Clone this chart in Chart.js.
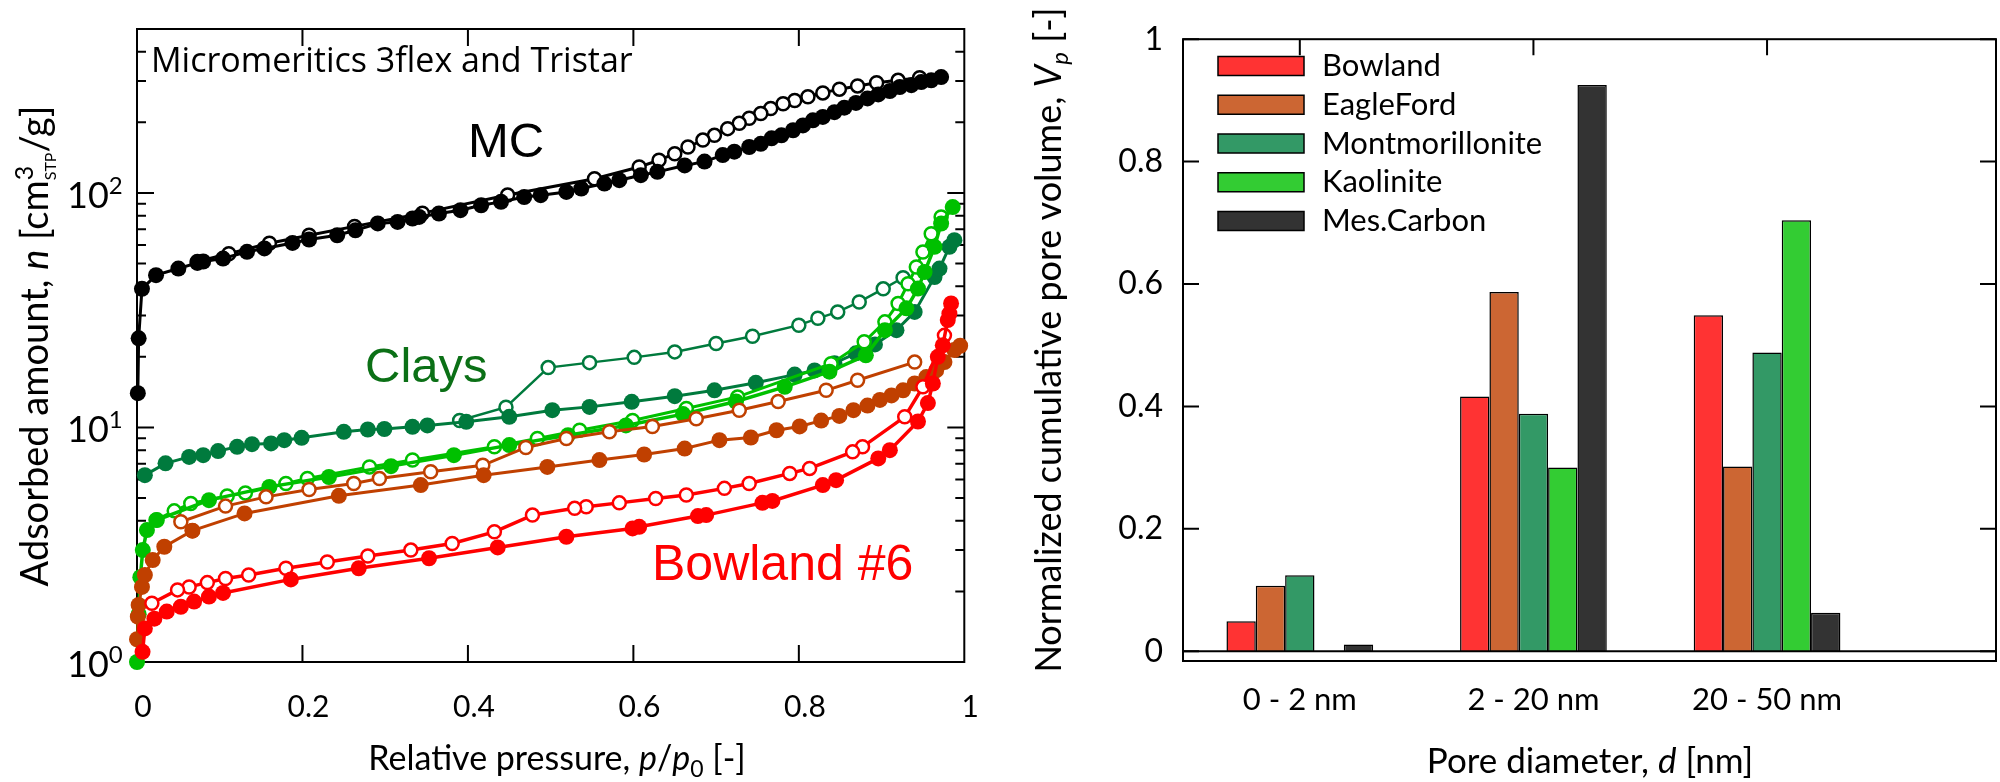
<!DOCTYPE html>
<html>
<head>
<meta charset="utf-8">
<script src="https://cdn.jsdelivr.net/npm/chart.js@4.4.1/dist/chart.umd.min.js"></script>
<style>
  html, body { margin: 0; padding: 0; background: #fff; }
  #wrap { position: relative; width: 2000px; height: 782px; }
  .box { position: absolute; top: 0; width: 1000px; height: 782px; }
</style>
</head>
<body>
<div id="wrap">
  <div class="box" style="left:0"><canvas id="iso"></canvas></div>
  <div class="box" style="left:1000px"><canvas id="pores"></canvas></div>
</div>
<script>
// ---------- left panel: isotherms, [p/p0, n] ----------
const pressureTicks = [0, 0.2, 0.4, 0.6, 0.8, 1];
const pressureTickLabels = ['0', '0.2', '0.4', '0.6', '0.8', '1'];
const amountDecades = [1, 10, 100];
const amountDecadeExps = ['0', '1', '2'];
const amountMinor = [2, 3, 4, 5, 6, 7, 8, 9, 20, 30, 40, 50, 60, 70, 80, 90, 200, 300, 400];

const mcAds = [[0.001,14],[0.002,24],[0.006,39],[0.023,44.6],[0.050,47.6],[0.073,50.3],[0.080,51],[0.104,52.5],[0.133,56.1],[0.154,58],[0.188,61.2],[0.208,63.3],[0.242,66],[0.264,69.3],[0.291,74.1],[0.315,75.2],[0.333,77.8],[0.341,79],[0.365,81.7],[0.391,84.4],[0.416,88.6],[0.440,91.6],[0.468,96.1],[0.488,97.8],[0.519,101],[0.537,104.4],[0.565,109.6],[0.583,113.3],[0.609,119],[0.629,123],[0.662,131],[0.686,136],[0.708,145],[0.722,150],[0.740,157],[0.754,162],[0.767,171],[0.779,176],[0.793,185],[0.805,194],[0.817,204],[0.829,211],[0.843,221],[0.855,231],[0.869,242],[0.883,253],[0.896,263],[0.910,272],[0.922,283],[0.936,288],[0.948,297],[0.960,302],[0.972,312]];
const mcDes = [[0.946,310],[0.920,302],[0.894,295],[0.871,286],[0.849,277],[0.829,267],[0.811,257],[0.795,248],[0.781,240],[0.766,229],[0.754,218],[0.740,208],[0.728,198],[0.714,188],[0.698,176],[0.684,168],[0.666,157],[0.650,147],[0.631,138],[0.607,129],[0.553,115],[0.448,98],[0.345,82],[0.263,72],[0.208,66],[0.160,61],[0.111,55],[0.073,51]];

const montAds = [[0.0095,6.26],[0.0345,7.03],[0.063,7.49],[0.080,7.62],[0.098,7.93],[0.121,8.27],[0.139,8.49],[0.162,8.55],[0.178,8.83],[0.199,9.03],[0.250,9.58],[0.279,9.80],[0.299,9.85],[0.333,10.06],[0.351,10.2],[0.398,10.57],[0.450,11.1],[0.502,11.85],[0.547,12.24],[0.598,12.86],[0.650,13.6],[0.698,14.4],[0.748,15.5],[0.795,16.8],[0.819,17.5],[0.843,18.8],[0.869,20.7],[0.892,22.6],[0.918,26],[0.940,31.1],[0.964,43.8],[0.970,47.6],[0.982,58.9],[0.988,62.9]];
const montDes = [[0.926,43.5],[0.902,39],[0.873,34.3],[0.847,31.1],[0.823,29.2],[0.800,27.3],[0.744,24.5],[0.700,22.8],[0.650,21],[0.601,19.9],[0.547,18.9],[0.497,18],[0.446,12.2],[0.390,10.7]];

const kaoAds = [[0.0,1.0],[0.002,1.6],[0.004,2.3],[0.007,3.0],[0.012,3.65],[0.024,4.03],[0.087,4.9],[0.160,5.58],[0.232,6.15],[0.307,6.84],[0.383,7.62],[0.450,8.41],[0.521,9.27],[0.591,10.2],[0.660,11.4],[0.724,12.9],[0.783,14.9],[0.837,17.3],[0.881,20.3],[0.904,26],[0.930,32.2],[0.944,39.1],[0.952,46],[0.964,58.9],[0.972,74],[0.986,87]];
const kaoDes = [[0.972,79],[0.960,67],[0.950,56],[0.942,48.3],[0.932,41],[0.920,33.8],[0.904,28.2],[0.879,23.2],[0.839,18.7],[0.726,13.5],[0.664,12.05],[0.599,10.7],[0.535,9.73],[0.484,8.98],[0.432,8.27],[0.333,7.26],[0.281,6.79],[0.206,6.06],[0.180,5.77],[0.131,5.26],[0.109,5.1],[0.065,4.74],[0.045,4.41],[0.023,4.03]];

const efAds = [[0.0,1.25],[0.001,1.56],[0.002,1.75],[0.006,2.09],[0.0095,2.35],[0.019,2.72],[0.033,3.1],[0.067,3.63],[0.130,4.3],[0.244,5.11],[0.343,5.68],[0.419,6.26],[0.496,6.79],[0.559,7.26],[0.613,7.67],[0.662,8.13],[0.704,8.83],[0.742,9.06],[0.773,9.73],[0.801,10.1],[0.827,10.7],[0.849,11.2],[0.866,11.85],[0.883,12.4],[0.898,13.1],[0.912,13.7],[0.926,14.4],[0.940,15.4],[0.954,16.4],[0.966,17.5],[0.976,19],[0.988,21.4],[0.995,22.3]];
const efDes = [[0.940,19],[0.871,15.9],[0.833,14.4],[0.775,12.9],[0.728,11.85],[0.676,10.9],[0.623,10.1],[0.571,9.58],[0.519,8.98],[0.470,8.22],[0.418,6.9],[0.355,6.47],[0.293,6.06],[0.262,5.77],[0.208,5.44],[0.156,5.06],[0.107,4.62],[0.053,3.96],[0.067,3.63]];

const bowAds = [[0.0067,1.105],[0.0095,1.39],[0.021,1.53],[0.036,1.64],[0.053,1.72],[0.069,1.81],[0.087,1.90],[0.104,1.97],[0.186,2.25],[0.268,2.51],[0.353,2.77],[0.436,3.08],[0.519,3.42],[0.599,3.71],[0.607,3.77],[0.678,4.19],[0.688,4.23],[0.756,4.77],[0.768,4.86],[0.829,5.68],[0.845,5.96],[0.896,7.38],[0.910,8.0],[0.944,10.6],[0.956,12.7],[0.962,15.4],[0.968,20],[0.974,22.4],[0.980,28.7],[0.982,30.6],[0.984,33.8]];
const bowDes = [[0.976,24.7],[0.950,14.9],[0.928,11.1],[0.877,8.27],[0.865,7.87],[0.813,6.69],[0.789,6.37],[0.740,5.77],[0.710,5.50],[0.664,5.15],[0.627,4.98],[0.583,4.77],[0.543,4.59],[0.529,4.52],[0.478,4.23],[0.432,3.59],[0.381,3.2],[0.331,3.0],[0.279,2.83],[0.230,2.67],[0.180,2.51],[0.135,2.35],[0.107,2.27],[0.085,2.18],[0.063,2.09],[0.049,2.03],[0.018,1.78]];

// ---------- right panel: pore volume bars ----------
const poreBins = ['0 - 2 nm', '2 - 20 nm', '20 - 50 nm'];
const poreTicks = [0, 0.2, 0.4, 0.6, 0.8, 1];
const poreTickLabels = ['0', '0.2', '0.4', '0.6', '0.8', '1'];
const bowlandPores = [0.049, 0.416, 0.549];
const eagleFordPores = [0.107, 0.587, 0.302];
const montPores = [0.124, 0.388, 0.488];
const kaolinitePores = [0, 0.300, 0.704];
const mesCarbonPores = [0.011, 0.925, 0.063];

const TXT = 'Lato';

function drawRuns(ctx, item, y) {
  ctx.save();
  ctx.translate(item.x, y);
  if (item.rotate) ctx.rotate(-Math.PI / 2);
  ctx.textBaseline = 'alphabetic';
  ctx.textAlign = 'left';
  let w = 0;
  item.runs.forEach(r => { ctx.font = r.font; if (!r.stack) w += ctx.measureText(r.t).width; });
  let cx = item.align === 'center' ? -w / 2 : item.align === 'right' ? -w : 0;
  item.runs.forEach(r => {
    ctx.font = r.font;
    ctx.fillStyle = item.color || '#000';
    ctx.fillText(r.t, cx, r.dy || 0);
    if (!r.stack) cx += ctx.measureText(r.t).width;
  });
  ctx.restore();
}

// text that is not a tick label: titles, notes
const notes = {
  id: 'notes',
  afterDraw(chart, args, opts) {
    const ys = chart.scales.y;
    (opts.items || []).forEach(it => {
      const y = it.yv !== undefined ? ys.getPixelForValue(it.yv) + (it.dy || 0) : it.y;
      drawRuns(chart.ctx, it, y);
    });
  }
};

// gnuplot style box with inward ticks
const frame = {
  id: 'frame',
  beforeDatasetsDraw(chart, args, opts) {
    const {ctx, chartArea: a, scales} = chart;
    ctx.save();
    ctx.strokeStyle = '#000';
    ctx.lineWidth = 2;
    ctx.beginPath();
    (opts.xTicks || []).forEach(v => {
      const px = scales.x.getPixelForValue(v);
      ctx.moveTo(px, a.top); ctx.lineTo(px, a.top + opts.len);
      if (opts.bottomTicks) { ctx.moveTo(px, a.bottom); ctx.lineTo(px, a.bottom - opts.len); }
    });
    (opts.yTicks || []).forEach(v => {
      const py = scales.y.getPixelForValue(v);
      ctx.moveTo(a.left, py); ctx.lineTo(a.left + opts.len, py);
      ctx.moveTo(a.right, py); ctx.lineTo(a.right - opts.len, py);
    });
    (opts.yMinor || []).forEach(v => {
      const py = scales.y.getPixelForValue(v);
      ctx.moveTo(a.left, py); ctx.lineTo(a.left + opts.minorLen, py);
      ctx.moveTo(a.right, py); ctx.lineTo(a.right - opts.minorLen, py);
    });
    ctx.stroke();
    ctx.strokeRect(a.left, a.top, a.right - a.left, a.bottom - a.top);
    ctx.restore();
  },
  afterDatasetsDraw(chart, args, opts) {
    if (!opts.zeroLine) return;
    const {ctx, chartArea: a, scales} = chart;
    const py = scales.y.getPixelForValue(0);
    ctx.save();
    ctx.strokeStyle = '#000';
    ctx.lineWidth = 2;
    ctx.beginPath();
    ctx.moveTo(a.left, py); ctx.lineTo(a.right, py);
    ctx.stroke();
    ctx.restore();
  }
};

// legend inside the plot, gnuplot style
const boxLegend = {
  id: 'boxLegend',
  afterDraw(chart, args, opts) {
    const ctx = chart.ctx;
    ctx.save();
    ctx.font = opts.font;
    ctx.textBaseline = 'middle';
    chart.data.datasets.forEach((ds, i) => {
      const cy = opts.y + i * opts.step;
      ctx.fillStyle = ds.backgroundColor;
      ctx.fillRect(opts.x, cy - opts.h / 2, opts.w, opts.h);
      ctx.strokeStyle = '#000';
      ctx.lineWidth = 1.5;
      ctx.strokeRect(opts.x, cy - opts.h / 2, opts.w, opts.h);
      ctx.fillStyle = '#000';
      ctx.fillText(ds.label, opts.textX, cy);
    });
    ctx.restore();
  }
};

function iso(label, pts, color, open, order, lw) {
  return {
    label: label,
    order: order,
    data: pts.map(p => ({x: p[0], y: p[1]})),
    borderColor: color,
    borderWidth: lw || 3,
    pointRadius: open ? 6.5 : 8,
    pointBorderWidth: open ? 2.5 : 0,
    pointBackgroundColor: open ? '#fff' : color,
    pointBorderColor: color,
    showLine: true,
    tension: 0,
    clip: false
  };
}

const BLACK = '#000000', MONT = '#007a3d', KAO = '#00c000', EF = '#c04000', BOW = '#ff0000';

const decadeLabels = amountDecades.map((v, i) => ({
  x: 67, yv: v, dy: 15,
  runs: [{t: '10', font: '36px ' + TXT}, {t: amountDecadeExps[i], font: '24px ' + TXT, dy: -14}]
}));

new Chart(document.getElementById('iso'), {
  type: 'line',
  data: {
    datasets: [
      iso('MC ads', mcAds, BLACK, false, 9),
      iso('MC des', mcDes, BLACK, true, 10),
      iso('Montmorillonite ads', montAds, MONT, false, 7),
      iso('Montmorillonite des', montDes, MONT, true, 8, 2.5),
      iso('Kaolinite ads', kaoAds, KAO, false, 5, 3.5),
      iso('Kaolinite des', kaoDes, KAO, true, 6),
      iso('EagleFord ads', efAds, EF, false, 3),
      iso('EagleFord des', efDes, EF, true, 4),
      iso('Bowland ads', bowAds, BOW, false, 1, 3.5),
      iso('Bowland des', bowDes, BOW, true, 2, 3.5)
    ]
  },
  options: {
    responsive: true,
    maintainAspectRatio: false,
    animation: false,
    events: [],
    layout: { padding: { top: 29, right: 23, left: 0, bottom: 0 } },
    scales: {
      x: {
        type: 'linear', min: 0, max: 1,
        grid: { display: false, drawTicks: false },
        border: { display: false },
        afterBuildTicks: s => { s.ticks = pressureTicks.map(v => ({value: v})); },
        afterFit: s => { s.height = 120; },
        ticks: {
          padding: 27, labelOffset: 6, color: '#000', maxRotation: 0, autoSkip: false,
          font: { family: TXT, size: 30 },
          callback: (v, i) => pressureTickLabels[i]
        }
      },
      y: {
        type: 'logarithmic', min: 1, max: 500,
        grid: { display: false, drawTicks: false },
        border: { display: false },
        afterFit: s => { s.width = 137; },
        ticks: { display: false }
      }
    },
    plugins: {
      legend: { display: false },
      tooltip: { enabled: false },
      frame: { xTicks: [0.2, 0.4, 0.6, 0.8], bottomTicks: true, yTicks: amountDecades, yMinor: amountMinor, len: 17, minorLen: 9 },
      notes: {
        items: decadeLabels.concat([
          { x: 48, y: 346, rotate: true, align: 'center', runs: [
            {t: 'Adsorbed amount, ', font: '38px ' + TXT},
            {t: 'n', font: 'italic 38px ' + TXT},
            {t: ' [cm', font: '38px ' + TXT},
            {t: '3', font: '25px ' + TXT, dy: -15, stack: true},
            {t: 'STP', font: '16px ' + TXT, dy: 8},
            {t: '/g]', font: '38px ' + TXT}
          ]},
          { x: 557, y: 770, align: 'center', runs: [
            {t: 'Relative pressure, ', font: '34px ' + TXT},
            {t: 'p', font: 'italic 34px ' + TXT},
            {t: '/', font: '34px ' + TXT},
            {t: 'p', font: 'italic 34px ' + TXT},
            {t: '0', font: '23px ' + TXT, dy: 7},
            {t: ' [-]', font: '34px ' + TXT}
          ]},
          { x: 151, y: 72, runs: [{t: 'Micromeritics 3flex and Tristar', font: '34px "Open Sans"'}] },
          { x: 468, y: 157, runs: [{t: 'MC', font: '49px "Liberation Sans"'}] },
          { x: 365, y: 382, color: '#0b7016', runs: [{t: 'Clays', font: '49px "Liberation Sans"'}] },
          { x: 652, y: 580, color: '#ff0000', runs: [{t: 'Bowland #6', font: '50px "Liberation Sans"'}] }
        ])
      }
    }
  },
  plugins: [frame, notes]
});

function bars(label, vals, color) {
  return {
    label: label,
    data: vals.map((v, i) => ({x: i, y: v})),
    backgroundColor: color,
    borderColor: '#000',
    borderWidth: 1.5,
    borderSkipped: 'bottom'
  };
}

new Chart(document.getElementById('pores'), {
  type: 'bar',
  data: {
    datasets: [
      bars('Bowland', bowlandPores, '#ff3333'),
      bars('EagleFord', eagleFordPores, '#cc6633'),
      bars('Montmorillonite', montPores, '#339966'),
      bars('Kaolinite', kaolinitePores, '#33cc33'),
      bars('Mes.Carbon', mesCarbonPores, '#333333')
    ]
  },
  options: {
    responsive: true,
    maintainAspectRatio: false,
    animation: false,
    events: [],
    categoryPercentage: 0.628,
    barPercentage: 1.0,
    layout: { padding: { top: 29, right: 4, left: 0, bottom: 0 } },
    scales: {
      x: {
        type: 'linear', min: -0.5, max: 2.98, offset: false,
        grid: { display: false, drawTicks: false },
        border: { display: false },
        afterBuildTicks: s => { s.ticks = poreBins.map((c, i) => ({value: i})); },
        afterFit: s => { s.height = 121; },
        ticks: {
          padding: 20, color: '#000', maxRotation: 0, autoSkip: false,
          font: { family: TXT, size: 31 },
          callback: (v, i) => poreBins[i]
        }
      },
      y: {
        type: 'linear', min: -0.016, max: 1,
        grid: { display: false, drawTicks: false },
        border: { display: false },
        afterBuildTicks: s => { s.ticks = poreTicks.map(v => ({value: v})); },
        afterFit: s => { s.width = 183; },
        ticks: {
          padding: 20, color: '#000',
          font: { family: TXT, size: 32 },
          callback: (v, i) => poreTickLabels[i]
        }
      }
    },
    plugins: {
      legend: { display: false },
      tooltip: { enabled: false },
      frame: { xTicks: [0, 1, 2], yTicks: poreTicks, len: 16, zeroLine: true },
      boxLegend: { x: 218, y: 66, step: 38.75, w: 86, h: 19, textX: 322, font: '31px ' + TXT },
      notes: {
        items: [
          { x: 61, y: 340, rotate: true, align: 'center', runs: [
            {t: 'Normalized cumulative pore volume, ', font: '36px ' + TXT},
            {t: 'V', font: 'italic 36px ' + TXT},
            {t: 'p', font: 'italic 24px ' + TXT, dy: 7},
            {t: ' [-]', font: '36px ' + TXT}
          ]},
          { x: 590, y: 773, align: 'center', runs: [
            {t: 'Pore diameter, ', font: '35px ' + TXT},
            {t: 'd', font: 'italic 35px ' + TXT},
            {t: ' [nm]', font: '35px ' + TXT}
          ]}
        ]
      }
    }
  },
  plugins: [frame, boxLegend, notes]
});
</script>
</body>
</html>
